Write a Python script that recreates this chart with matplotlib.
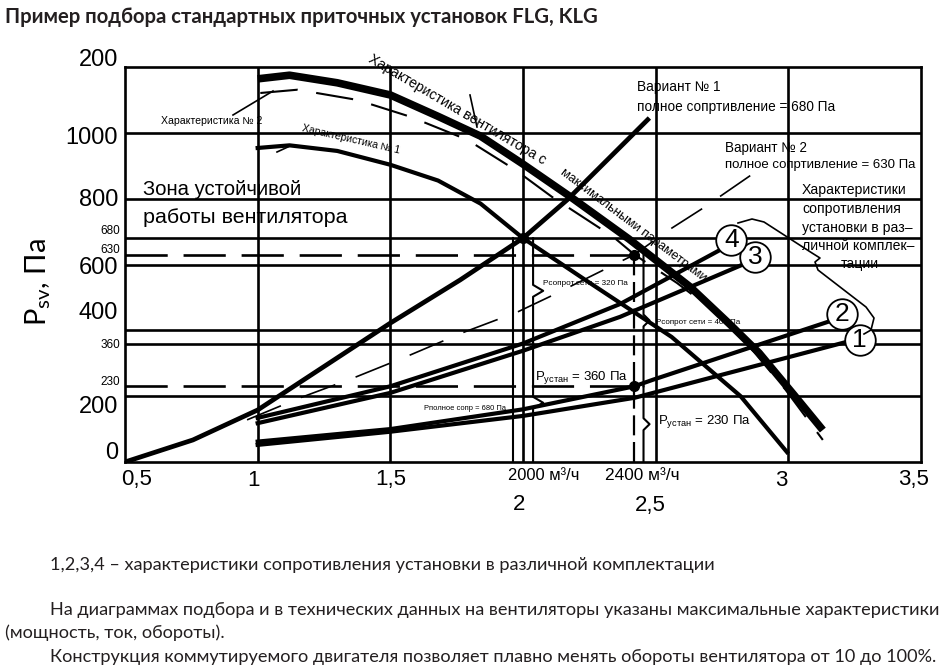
import matplotlib
matplotlib.use("Agg")
import matplotlib.pyplot as plt
from matplotlib.lines import Line2D
from matplotlib.transforms import blended_transform_factory, offset_copy

W, H = 948, 670
GOST = ["Liberation Sans", "DejaVu Sans"]
BODY = ["Lato", "DejaVu Sans"]

# flow in thousand m3/h, pressure in Pa
fan_max_q = [1.0, 1.12, 1.3, 1.5, 1.68, 1.84, 2.0, 2.18, 2.4, 2.63, 2.78, 2.89, 3.02, 3.13]
fan_max_p = [1164, 1175, 1152, 1115, 1050, 990, 905, 805, 677, 532, 418, 331, 205, 97]

fan2_q = [1.01, 1.15, 1.375, 1.575, 1.79, 1.97, 2.11, 2.34, 2.42, 2.58, 2.75, 2.87, 2.99, 3.13]
fan2_p = [1121, 1131, 1100, 1049, 979, 888, 805, 684, 630, 544, 440, 335, 219, 67]

fan1_q = [1.0, 1.12, 1.3, 1.5, 1.68, 1.84, 2.0, 2.25, 2.56, 2.82, 2.995]
fan1_p = [954, 962, 945, 903, 855, 785, 680, 545, 380, 200, 30]

var1_q = [0.5, 0.756, 1.0, 1.5, 1.763, 2.0, 2.166, 2.47]
var1_p = [0, 67, 158, 422, 553, 680, 796, 1040]

var2_q = [0.96, 1.16, 1.36, 1.56, 1.77, 1.98, 2.1, 2.42, 2.55, 2.68, 2.86]
var2_p = [128, 195, 255, 320, 392, 456, 502, 630, 705, 772, 872]

unit4_q = [1.0, 1.5, 2.0, 2.366, 2.74]
unit4_p = [134, 230, 360, 480, 643]
unit3_q = [1.0, 1.5, 2.0, 2.366, 2.826]
unit3_p = [118, 210, 338, 441, 599]
unit2_q = [1.0, 1.5, 2.0, 2.42, 2.49, 3.15]
unit2_p = [62, 100, 160, 230, 250, 426]
unit1_q = [1.0, 1.5, 2.0, 2.42, 3.22]
unit1_p = [52, 92, 140, 195, 365]

grid_q = [1.0, 1.5, 2.0, 2.5, 3.0]
grid_p = [200, 360, 400, 600, 680, 800, 1000]

v1_q, v1_total, v1_unit = 2.0, 680, 360
v2_q, v2_total, v2_unit = 2.42, 630, 230

ytick_vals = [1200, 1000, 800, 600, 400, 200, 0]
ytick_text = ["200", "1000", "800", "600", "400", "200", "0"]
ysmall_vals = [680, 630, 360, 230]
xtick_vals = [0.5, 1.0, 1.5, 2.0, 2.5, 3.0, 3.5]
xtick_text = ["0,5", "1", "1,5", "2", "2,5", "3", "3,5"]

fig = plt.figure(figsize=(W / 100, H / 100), dpi=100)
ax = fig.add_axes([125 / W, 1 - 462 / H, 796 / W, 395 / H])
ax.set_xlim(0.5, 3.5)
ax.set_ylim(0, 1200)
ax.set_xticks([])
ax.set_yticks([])
for s in ax.spines.values():
    s.set_linewidth(1.9)
renderer = fig.canvas.get_renderer()


def fit(t, width):
    rot = t.get_rotation()
    t.set_rotation(0)
    w = t.get_window_extent(renderer).width
    t.set_fontsize(t.get_fontsize() * width / w)
    t.set_rotation(rot)
    return t


def ftext(x, y, s, width=None, **kw):
    kw.setdefault("family", GOST)
    kw.setdefault("va", "center")
    t = fig.text(x / W, 1 - y / H, s, **kw)
    if width:
        fit(t, width)
    return t


def fline(xs, ys, lw=1.2):
    fig.add_artist(Line2D([x / W for x in xs], [1 - y / H for y in ys],
                          transform=fig.transFigure, color="black", lw=lw))


# grid
for q in grid_q:
    ax.axvline(q, color="black", lw=1.9)
for p in grid_p:
    ax.axhline(p, color="black", lw=1.9)

# dashed level lines for variant 2
ax.plot([0.5, v2_q], [v2_total, v2_total], color="black", lw=1.9, dashes=(16, 6))
ax.plot([0.5, v2_q], [v2_unit, v2_unit], color="black", lw=1.9, dashes=(16, 6))
ax.plot([v2_q, v2_q], [0, v2_total], color="black", lw=1.6, dashes=(9, 3))

# fan curves
ax.plot(fan_max_q, fan_max_p, color="black", lw=5.5, solid_capstyle="butt")
ax.plot(fan2_q, fan2_p, color="black", lw=1.5, dashes=(18, 9))
ax.plot(fan1_q, fan1_p, color="black", lw=3.0)

# network curves
ax.plot(var1_q, var1_p, color="black", lw=3.4)
ax.plot(var2_q, var2_p, color="black", lw=1.2, dashes=(22, 13))

# unit resistance curves
unit_curves = [(unit1_q, unit1_p, "1", (13, 2)), (unit2_q, unit2_p, "2", (14, 8)),
               (unit3_q, unit3_p, "3", (13, 8)), (unit4_q, unit4_p, "4", (12, 10))]
for q, p, lab, (dx, dy) in unit_curves:
    ax.plot(q, p, color="black", lw=3.0)
for q, p, lab, (dx, dy) in unit_curves:
    tr = offset_copy(ax.transData, fig=fig, x=dx, y=dy, units="dots")
    ax.plot([q[-1]], [p[-1]], "o", ms=22, mfc="white", mec="black", mew=1.3, transform=tr, zorder=5)
    ax.text(q[-1], p[-1], lab, transform=tr, ha="center", va="center", family=GOST,
            fontsize=19, zorder=6)

# operating points
ax.plot([v1_q, v2_q, v2_q], [v1_total, v2_total, v2_unit], "o", color="black", ms=7, zorder=6)

# braces
def brace(x, p0, p1, dx, tip=None):
    if tip is None:
        ax.plot([x, x], [p0, p1], color="black", lw=1.5)
        return
    d = 18
    ax.plot([x, x, x + dx, x, x], [p0, tip - d, tip, tip + d, p1], color="black", lw=1.5)

bw = 0.038
brace(v1_q - bw, 0, v1_total, -bw)
brace(v1_q + bw, v1_unit, v1_total, bw, (v1_unit + v1_total) / 2)
brace(v1_q + bw, 0, v1_unit, bw, v1_unit / 2)
brace(v2_q + bw * 0.9, v2_unit, v2_total, bw * 0.6, (v2_unit + v2_total) / 2)
brace(v2_q + bw * 0.9, 0, v2_unit, bw * 0.6, v2_unit / 2)

# tick labels
yt = blended_transform_factory(ax.transAxes, ax.transData)
ydy = {1200: 7, 1000: -5, 800: -1, 600: -4, 400: 17, 200: -11, 0: 9}
for v, s in zip(ytick_vals, ytick_text):
    ax.annotate(s, xy=(0, v), xycoords=yt, xytext=(-7, ydy[v]), textcoords="offset pixels",
                ha="right", va="center", family=GOST, fontsize=17, annotation_clip=False)
sdy = {680: 7, 630: 5, 360: -2, 230: 4}
for v in ysmall_vals:
    ax.annotate(str(v), xy=(0, v), xycoords=yt, xytext=(-5, sdy[v]), textcoords="offset pixels",
                ha="right", va="center", family=GOST, fontsize=8.5, annotation_clip=False)
xt = blended_transform_factory(ax.transData, ax.transAxes)
xdx = {0.5: 12, 1.0: -4, 1.5: 0, 2.0: -4, 2.5: -5, 3.0: -7, 3.5: -7}
for v, s in zip(xtick_vals, xtick_text):
    dy = -43 if v in (2.0, 2.5) else -18
    ax.annotate(s, xy=(v, 0), xycoords=xt, xytext=(xdx[v], dy), textcoords="offset pixels",
                ha="center", va="center", family=GOST, fontsize=16, annotation_clip=False)

ftext(508, 475, "2000 м³/ч", width=72)
ftext(605, 475, "2400 м³/ч", width=75)

# axis title
ftext(38, 282, r"$\mathregular{P_{sv}}$, Па", family=BODY, fontsize=21, rotation=90, ha="center")

# annotations on the chart
ftext(161, 121, "Характеристика № 2", width=101)
fline([233, 273], [115, 91])
ftext(351, 139, "Характеристика № 1", width=100, rotation=-13, ha="center")
fline([277, 290], [152, 146])
ftext(457, 110, "Характеристика вентилятора с", width=205, rotation=-30.5, ha="center")
ftext(633, 225, "максимальными параметрами", width=182, rotation=-37, ha="center")
fline([470, 477], [95, 127])

ftext(143, 190, "Зона устойчивой", width=160)
ftext(143, 218, "работы вентилятора", width=205)

ftext(637, 87, "Вариант № 1", width=83)
ftext(637, 107, "полное сопртивление = 680 Па", width=198)
ftext(725, 148, "Вариант № 2", width=83)
ftext(725, 165, "полное сопртивление = 630 Па", width=193)

char_lines = ["Характеристики", "сопротивления", "установки в раз–", "личной комплек–"]
ref = ftext(802, 228, char_lines[2], width=110)
cfs = ref.get_fontsize()
for i, s in enumerate(char_lines):
    if i != 2:
        ftext(802, 190 + i * 18.5, s, fontsize=cfs)
ftext(860, 264, "тации", fontsize=cfs, ha="center")
fline([738, 752, 764, 812, 820, 815, 818, 866, 874, 871, 864],
      [223, 219, 222, 253, 258, 262, 270, 307, 318, 330, 334])

ftext(543, 284, "Рсопрот.сети = 320 Па", width=85)
ftext(656, 323, "Рсопрот сети = 400 Па", width=85)
ftext(424, 408, "Рполное сопр = 680 Па", width=82)
ftext(535, 377, r"$\mathregular{P_{устан}}$ = 360 Па", width=93)
ftext(658, 421, r"$\mathregular{P_{устан}}$ = 230 Па", width=93)

# title and notes
ink = "#231f20"
ftext(5, 17, "Пример подбора стандартных приточных установок FLG, KLG",
      family=BODY, fontweight="bold", width=592, color=ink)
l2 = ftext(50, 610, "На диаграммах подбора и в технических данных на вентиляторы указаны "
           "максимальные характеристики", family=BODY, width=890, color=ink)
fs = l2.get_fontsize()
ftext(50, 565, "1,2,3,4 – характеристики сопротивления установки в различной комплектации",
      family=BODY, fontsize=fs, color=ink)
ftext(5, 633, "(мощность, ток, обороты).", family=BODY, fontsize=fs, color=ink)
ftext(50, 657, "Конструкция коммутируемого двигателя позволяет плавно менять обороты "
      "вентилятора от 10 до 100%.", family=BODY, fontsize=fs, color=ink)

fig.savefig("out.png", dpi=100, facecolor="white")
